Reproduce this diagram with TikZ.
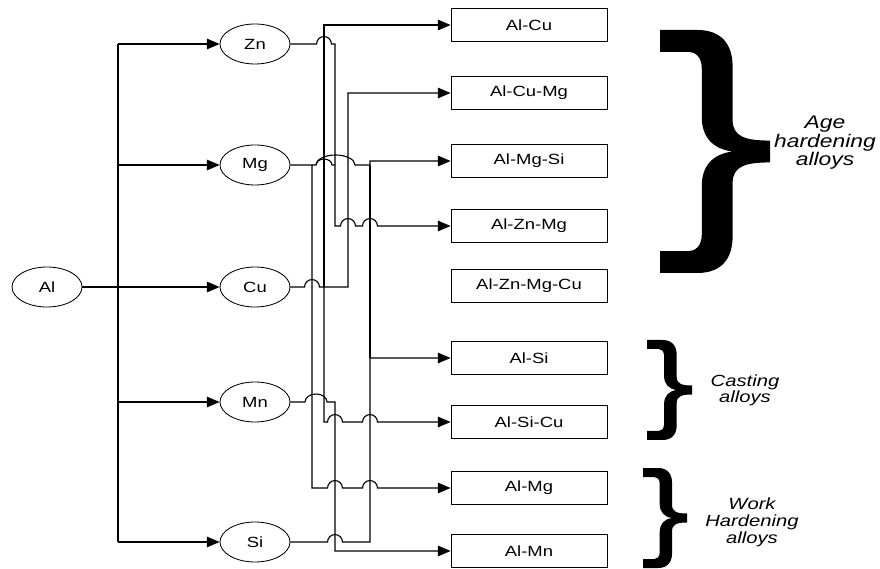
\documentclass[tikz,border=0pt]{standalone}
\usepackage{fontspec}
\setmainfont{Liberation Sans}
\usepackage{graphicx}
\usetikzlibrary{arrows.meta,shapes.geometric}

% hop over a crossing wire at (#1,#2)
\newcommand{\hop}[2]{-- ([xshift=-5.3pt]#1,#2) arc[start angle=180,end angle=0,radius=5.3pt]}
\newcommand{\wide}[1]{\scalebox{1.25}[1]{#1}}
% right curly brace, x in [0,1], y in [-1,1]
\newcommand{\curly}{(0,-1) -- (0.34,-1) .. controls (0.56,-1) and (0.66,-0.88) .. (0.66,-0.7) -- (0.66,-0.26) .. controls (0.66,-0.12) and (0.78,-0.09) .. (1,-0.09) -- (1,0.09) .. controls (0.78,0.09) and (0.66,0.12) .. (0.66,0.26) -- (0.66,0.7) .. controls (0.66,0.88) and (0.56,1) .. (0.34,1) -- (0,1) -- (0,0.82) -- (0.26,0.82) .. controls (0.32,0.82) and (0.38,0.78) .. (0.38,0.68) -- (0.38,0.28) .. controls (0.38,0.12) and (0.48,0.02) .. (0.66,0) .. controls (0.48,-0.02) and (0.38,-0.12) .. (0.38,-0.28) -- (0.38,-0.68) .. controls (0.38,-0.78) and (0.32,-0.82) .. (0.26,-0.82) -- (0,-0.82) -- cycle}
\newcommand{\groupbrace}[4]{\begin{scope}[shift={(#1,#2)},xscale=#3,yscale=#4]\fill[black] \curly;\end{scope}}

\begin{document}
\begin{tikzpicture}[x=0.025cm,y=-0.025cm,
  elem/.style={ellipse,draw,line width=0.6pt,minimum width=1.75cm,minimum height=1cm,inner sep=0pt,font=\fontsize{10.5}{12}\selectfont},
  alloy/.style={rectangle,draw,line width=0.6pt,minimum width=3.9cm,minimum height=0.825cm,inner sep=0pt,font=\fontsize{10.5}{12}\selectfont},
  conn/.style={line width=0.8pt},
  feed/.style={conn,-{Triangle[length=9pt,width=7.5pt]}},
  group/.style={align=center,xscale=1.25,transform shape,inner sep=0pt}]
\useasboundingbox (0,0) rectangle (880,569);
% Base metal and alloying elements
\node[elem] (Al) at (47,287) {\wide{Al}};
\node[elem] (Zn) at (255,44) {\wide{Zn}};
\node[elem] (Mg) at (255,165) {\wide{Mg}};
\node[elem] (Cu) at (255,287) {\wide{Cu}};
\node[elem] (Mn) at (255,402) {\wide{Mn}};
\node[elem] (Si) at (255,542) {\wide{Si}};
% Alloy series
\node[alloy] (AlCu) at (529,25) {\wide{Al-Cu}};
\node[alloy] (AlCuMg) at (529,93) {\wide{Al-Cu-Mg}};
\node[alloy] (AlMgSi) at (529,161) {\wide{Al-Mg-Si}};
\node[alloy] (AlZnMg) at (529,226) {\wide{Al-Zn-Mg}};
\node[alloy] (AlZnMgCu) at (529,286) {\wide{Al-Zn-Mg-Cu}};
\node[alloy] (AlSi) at (529,358) {\wide{Al-Si}};
\node[alloy] (AlSiCu) at (529,422) {\wide{Al-Si-Cu}};
\node[alloy] (AlMg) at (529,488) {\wide{Al-Mg}};
\node[alloy] (AlMn) at (529,551) {\wide{Al-Mn}};
% Trunk from Al to the elements
\coordinate (trunk) at (118,287);
\draw[conn] (Al.east) -- (trunk);
\draw[conn] (Zn -| trunk) -- (Si -| trunk);
\foreach \e in {Zn,Mg,Cu,Mn,Si}
  \draw[feed] (\e -| trunk) -- (\e.west);
% Zn
\coordinate (jZn) at (335,44);
\draw[feed] (Zn.east) \hop{324}{44} -- (jZn) -- (335,226) \hop{348}{226} \hop{370}{226} -- (AlZnMg.west);
% Mg
\coordinate (jMg) at (312,165);
\coordinate (jMgSi) at (370,165);
\draw[feed] (Mg.east) -- (jMg) -- (312,488) \hop{335}{488} \hop{370}{488} -- (AlMg.west);
\draw[feed] (jMg) -- (316,165) arc[start angle=180,end angle=0,x radius=0.4875cm,y radius=0.25cm] -- (jMgSi) -- (370,161) -- (AlMgSi.west);
\draw[conn] (316,165) arc[start angle=180,end angle=0,x radius=0.2cm,y radius=0.15cm] -- (335,165);
% Cu
\coordinate (jCu) at (324,287);
\draw[feed] (Cu.east) \hop{312}{287} -- (jCu) -- (348,287) -- (348,93) -- (AlCuMg.west);
\draw[feed] (jCu) -- (324,25) -- (AlCu.west);
\draw[feed] (jCu) -- (324,422) \hop{335}{422} \hop{370}{422} -- (AlSiCu.west);
% Mn
\draw[feed] (Mn.east) -- (305,402) arc[start angle=180,end angle=0,x radius=0.275cm,y radius=0.2cm] -- (335,402) -- (335,551) -- (AlMn.west);
% Si
\coordinate (jSi) at (370,358);
\draw[feed] (Si.east) \hop{335}{542} -- (370,542) -- (jSi) -- (AlSi.west);
\draw[conn] (jSi) -- (jMgSi);
% Groups
\groupbrace{660}{151.5}{110}{121.5}
\groupbrace{647}{390}{45}{50}
\groupbrace{643}{518}{44}{50}
\node[group,font=\itshape\fontsize{13}{12}\selectfont] (ageLbl) at (825,143) {Age\\hardening\\alloys};
\node[group,font=\itshape\fontsize{11.5}{11.3}\selectfont] (castLbl) at (745,390) {Casting\\alloys};
\node[group,font=\itshape\fontsize{11.5}{12}\selectfont] (workLbl) at (752,522) {Work\\Hardening\\alloys};
\end{tikzpicture}
\end{document}
